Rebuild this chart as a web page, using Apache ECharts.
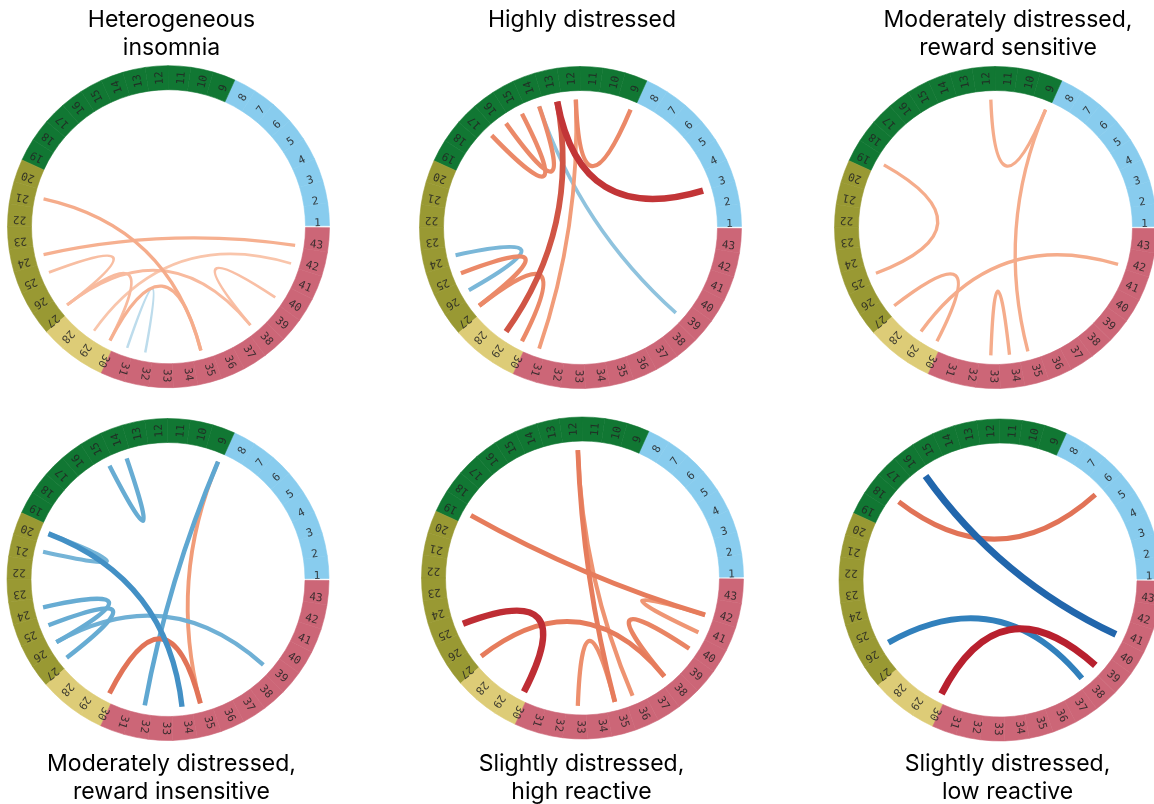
<!DOCTYPE html>
<html>
<head>
<meta charset="utf-8">
<script src="https://cdn.jsdelivr.net/npm/echarts@6/dist/echarts.min.js"></script>
<style>
  html, body { margin: 0; padding: 0; background: #ffffff; }
  #chart { width: 1154px; height: 804px; }
</style>
</head>
<body>
<div id="chart"></div>
<script>
// ---- data -------------------------------------------------------------
// Node labels around every ring
const nodeLabels = ['1','2','3','4','5','6','7','8','9','10','11','12','13','14','15',
  '16','17','18','19','20','21','22','23','24','25','26','27','28','29','30','31','32',
  '33','34','35','36','37','38','39','40','41','42','43'];

// Ring groups: last node of each group, colour and relative arc width per node
const groupLastNode = [8, 19, 27, 30, 43];
const groupColors = ['#88CCEE', '#117733', '#999933', '#DDCC77', '#CC6677'];
const groupSegmentWeight = [1, 1, 1, 1, 1.077];

// Panel titles
const panelTitles = [
  'Heterogeneous\ninsomnia',
  'Highly distressed',
  'Moderately distressed,\nreward sensitive',
  'Moderately distressed,\nreward insensitive',
  'Slightly distressed,\nhigh reactive',
  'Slightly distressed,\nlow reactive'
];

// Links per panel: [node A, node B, signed strength]
const edgesHeterogeneous = [
  [21, 35, 0.36], [24, 43, 0.34], [25, 27, 0.26], [27, 30, 0.28], [27, 38, 0.28],
  [29, 42, 0.22], [30, 35, 0.34], [38, 40, 0.25], [31, 32, -0.20]
];
const edgesHighly = [
  [13, 3, 0.92], [13, 29, 0.80], [12, 9, 0.55], [12, 31, 0.45], [17, 15, 0.55],
  [16, 14, 0.55], [14, 39, -0.40], [24, 26, -0.48], [25, 27, 0.55], [27, 30, 0.55]
];
const edgesModRewardSens = [
  [12, 9, 0.36], [9, 35, 0.36], [19, 25, 0.36], [27, 30, 0.36], [29, 42, 0.36], [33, 34, 0.36]
];
const edgesModRewardInsens = [
  [14, 15, -0.55], [9, 32, -0.58], [9, 35, 0.45], [20, 34, -0.72], [20, 21, -0.50],
  [24, 26, -0.55], [25, 27, -0.55], [26, 39, -0.52], [30, 35, 0.66]
];
const edgesSlightHigh = [
  [12, 35, 0.62], [12, 36, 0.50], [19, 42, 0.62], [41, 42, 0.48], [38, 40, 0.58],
  [27, 38, 0.62], [25, 30, 0.95], [33, 35, 0.52]
];
const edgesSlightLow = [
  [18, 6, 0.66], [16, 41, -1.00], [26, 38, -0.82], [30, 39, 1.00]
];
const panelEdges = [edgesHeterogeneous, edgesHighly, edgesModRewardSens,
  edgesModRewardInsens, edgesSlightHigh, edgesSlightLow];

// ---- layout & style -----------------------------------------------------
const panelCenters = [[168.5, 226.7], [580.5, 227.5], [995.5, 227.5],
                      [168, 579.5], [582.5, 578], [1000, 580]];
const titlePos = [[171.5, 6], [582, 6], [1008, 6], [171.5, 750], [581.5, 750], [1007.5, 750]];
const RING_OUTER = 161, RING_INNER = 137, LABEL_R = 149, CHORD_R = 128;
const LABEL_SHIFT = 0.155; // labels sit slightly counter-clockwise of their node

const posStops = [[0, '#fde5d8'], [0.2, '#fac8b0'], [0.4, '#f4a582'], [0.6, '#e8805f'], [0.8, '#d05545'], [1, '#b8202e']];
const negStops = [[0, '#deedf6'], [0.2, '#bddcec'], [0.4, '#8fc3de'], [0.6, '#5aa4cf'], [0.8, '#3383be'], [1, '#2166ac']];

function hexToRgb(h) {
  return [parseInt(h.slice(1, 3), 16), parseInt(h.slice(3, 5), 16), parseInt(h.slice(5, 7), 16)];
}
function strengthColor(w) {
  const stops = w >= 0 ? posStops : negStops;
  const a = Math.min(1, Math.abs(w));
  for (let i = 1; i < stops.length; i++) {
    if (a <= stops[i][0]) {
      const t = (a - stops[i - 1][0]) / (stops[i][0] - stops[i - 1][0]);
      const c0 = hexToRgb(stops[i - 1][1]), c1 = hexToRgb(stops[i][1]);
      const c = c0.map((v, k) => Math.round(v + (c1[k] - v) * t));
      return 'rgb(' + c.join(',') + ')';
    }
  }
  return stops[stops.length - 1][1];
}
function strengthWidth(w) { return 1.4 + 5.5 * Math.abs(w); }

function groupIndexOf(node) {
  for (let g = 0; g < groupLastNode.length; g++) if (node <= groupLastNode[g]) return g;
  return groupLastNode.length - 1;
}

// ---- options ------------------------------------------------------------
const polar = [], angleAxis = [], radiusAxis = [], series = [], title = [];

panelCenters.forEach((c, p) => {
  polar.push({ center: c, radius: [0, RING_OUTER] });
  angleAxis.push({ polarIndex: p, type: 'value', min: 0, max: nodeLabels.length,
    startAngle: 0, clockwise: false, show: false });
  radiusAxis.push({ polarIndex: p, type: 'value', min: 0, max: RING_OUTER, show: false });

  title.push({
    text: panelTitles[p], left: titlePos[p][0], top: titlePos[p][1],
    textAlign: 'center', padding: 0,
    textStyle: { fontFamily: 'Inter', fontSize: 23, fontWeight: 'normal', color: '#000', lineHeight: 28 }
  });

  // coloured ring of node segments
  series.push({
    type: 'pie', center: c, radius: [RING_INNER, RING_OUTER],
    startAngle: 0.35, endAngle: -0.35, clockwise: false, padAngle: 0,
    silent: true, animation: false, label: { show: false }, labelLine: { show: false },
    emphasis: { disabled: true },
    itemStyle: { borderWidth: 0, borderColor: 'transparent' },
    data: nodeLabels.map((name, i) => {
      const g = groupIndexOf(i + 1);
      return {
        name: name, value: groupSegmentWeight[g],
        itemStyle: { color: groupColors[g], borderColor: groupColors[g], borderWidth: 0.6 }
      };
    })
  });

  // chords, weaker links first so stronger ones sit on top
  const links = panelEdges[p].slice().sort((a, b) => Math.abs(a[2]) - Math.abs(b[2]));
  series.push({
    type: 'custom', coordinateSystem: 'polar', polarIndex: p, silent: true, animation: false,
    z: 3,
    data: links,
    renderItem: function (params, api) {
      const a = api.value(0), b = api.value(1), w = api.value(2);
      const p1 = api.coord([CHORD_R, a - 1]);
      const p2 = api.coord([CHORD_R, b - 1]);
      const o = api.coord([0, 0]);
      return {
        type: 'bezierCurve',
        shape: { x1: p1[0], y1: p1[1], x2: p2[0], y2: p2[1], cpx1: o[0], cpy1: o[1] },
        style: { fill: null, stroke: strengthColor(w), lineWidth: strengthWidth(w), lineCap: 'butt' }
      };
    }
  });

  // node numbers written radially inside the ring
  series.push({
    type: 'custom', coordinateSystem: 'polar', polarIndex: p, silent: true, animation: false,
    z: 4,
    data: nodeLabels.map((name, i) => [LABEL_R, i + LABEL_SHIFT]),
    renderItem: function (params, api) {
      const pt = api.coord([api.value(0), api.value(1)]);
      const o = api.coord([0, 0]);
      const rot = Math.atan2(o[1] - pt[1], pt[0] - o[0]);
      return {
        type: 'text', x: pt[0], y: pt[1], rotation: rot,
        style: {
          text: nodeLabels[params.dataIndex], fontFamily: 'DejaVu Sans Mono', fontSize: 11,
          fill: 'rgba(35,35,35,0.85)', align: 'center', verticalAlign: 'middle'
        }
      };
    }
  });
});

const chart = echarts.init(document.getElementById('chart'), null, { renderer: 'canvas' });
chart.setOption({
  animation: false,
  backgroundColor: '#ffffff',
  title: title,
  polar: polar,
  angleAxis: angleAxis,
  radiusAxis: radiusAxis,
  series: series
});
</script>
</body>
</html>
